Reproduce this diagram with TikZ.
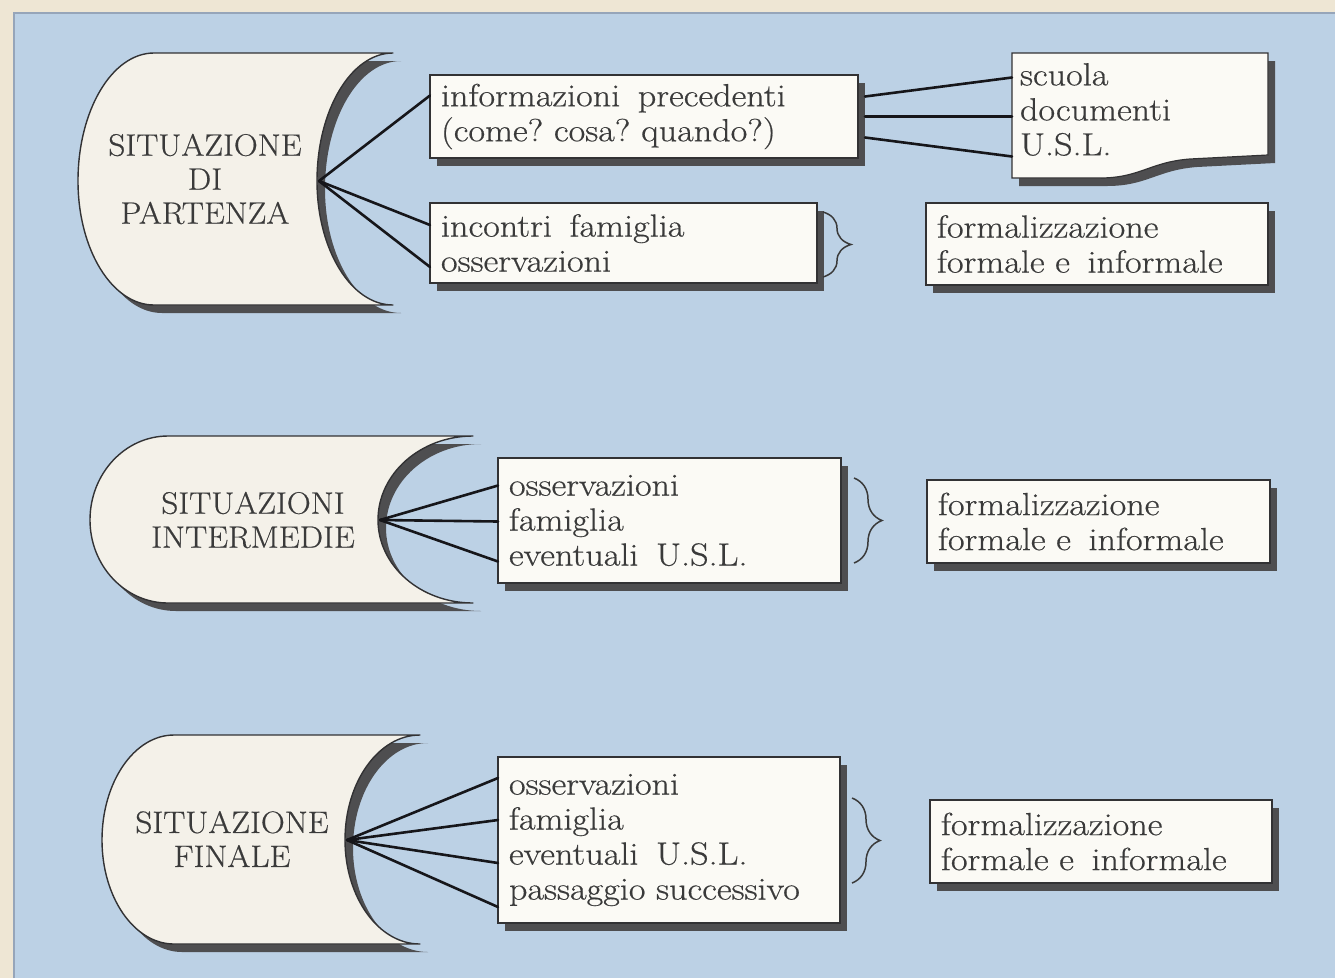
\documentclass[tikz,border=0pt]{standalone}
\usepackage{fontspec}
\setmainfont{Latin Modern Roman}[FakeStretch=1.07, FakeBold=0.5]
\newfontfamily\boxfamily{Latin Modern Roman}[FakeStretch=1.13, FakeBold=0.5]
\usetikzlibrary{shadows,decorations.pathreplacing,calc}
\definecolor{bgblue}{RGB}{188,209,229}
\definecolor{bgedge}{RGB}{150,165,185}
\definecolor{cream}{RGB}{238,230,212}
\definecolor{boxfill}{RGB}{251,250,245}
\definecolor{scrollfill}{RGB}{244,241,233}
\definecolor{shadowc}{RGB}{78,78,80}
\definecolor{boxline}{RGB}{50,50,52}
\definecolor{linec}{RGB}{22,22,26}
\definecolor{textc}{RGB}{58,58,58}
\newcommand{\boxfont}{\boxfamily\fontsize{32}{35}\selectfont}
\newcommand{\scrfont}{\fontsize{31}{34}\selectfont}
\newcommand{\wsp}{\hspace{0.55em}}
% #1 leftmost x, #2 start of flat top, #3 concave leftmost x, #4 horn x, #5 top y, #6 mid y, #7 bottom y
\newcommand{\scrollpath}[7]{(#2,#5) -- (#4,#5)
 .. controls ({#4-0.552*(#4-#3)},#5) and (#3,{#5+0.448*(#6-#5)}) .. (#3,#6)
 .. controls (#3,{#7-0.448*(#7-#6)}) and ({#4-0.552*(#4-#3)},#7) .. (#4,#7)
 -- (#2,#7)
 .. controls ({#2-0.552*(#2-#1)},#7) and (#1,{#7-0.448*(#7-#6)}) .. (#1,#6)
 .. controls (#1,{#5+0.448*(#6-#5)}) and ({#2-0.552*(#2-#1)},#5) .. (#2,#5) -- cycle}
\newcommand{\dpath}{(1012,53) -- (1268,53) -- (1268,155) -- (1190,159)
 .. controls (1150,162) and (1140,178) .. (1100,178) -- (1012,178) -- cycle}
\begin{document}
\frenchspacing
\begin{tikzpicture}[x=1pt,y=-1pt,
  box/.style={draw=boxline, line width=1.2pt, fill=boxfill, anchor=north west,
    align=left, inner xsep=11pt, inner ysep=0pt, outer sep=0pt, font=\boxfont,
    text=textc, drop shadow={shadow xshift=7pt,shadow yshift=-8pt,opacity=1,fill=shadowc}},
  dtext/.style={anchor=north west, align=left, inner xsep=8pt, inner ysep=0pt,
    outer sep=0pt, font=\boxfont, text=textc},
  stext/.style={align=center, font=\scrfont, text=textc, inner sep=0pt},
  conn/.style={line width=2.6pt, draw=linec, line cap=round},
  scrollshadow/.style={fill=shadowc},
  scrollbody/.style={fill=scrollfill, draw=boxline, line width=1.4pt, line join=round},
  bracestyle/.style={decorate, decoration={brace, amplitude=28pt}, line width=1.5pt, draw=textc}
]
\useasboundingbox (0,0) rectangle (1335,978);
\fill[cream] (0,0) rectangle (1335,978);
\fill[bgblue] (14,13) rectangle (1335,978);
\draw[bgedge, line width=1.2pt] (14,978) -- (14,13) -- (1335,13);

% scroll shapes
\begin{scope}[shift={(8,8)}]
  \fill[scrollshadow] \scrollpath{78}{154}{317}{393}{53}{181}{305};
  \fill[scrollshadow] \scrollpath{90}{168}{378}{473}{436}{520}{603};
  \fill[scrollshadow] \scrollpath{102}{174}{345}{420}{735}{840}{944};
\end{scope}
\path[scrollbody] \scrollpath{78}{154}{317}{393}{53}{181}{305};
\path[scrollbody] \scrollpath{90}{168}{378}{473}{436}{520}{603};
\path[scrollbody] \scrollpath{102}{174}{345}{420}{735}{840}{944};

\node[stext] (S1) at (205,179) {SITUAZIONE\\DI\\PARTENZA};
\node[stext] (S2) at (253,520) {SITUAZIONI\\INTERMEDIE};
\node[stext] (S3) at (232,839) {SITUAZIONE\\FINALE};
\coordinate (S1a) at (319,181);
\coordinate (S2a) at (380,520);
\coordinate (S3a) at (347,840);

% box D (wavy)
\begin{scope}[shift={(7,8)}]
  \fill[shadowc] \dpath;
\end{scope}
\path[fill=boxfill, draw=boxline, line width=1.2pt] \dpath;
\node[dtext, text width=240pt, minimum height=113pt] (D) at (1012,53) {scuola\\documenti\\U.S.L.};

% boxes
\node[box, text width=406pt, minimum height=83pt] (A) at (430,75) {informazioni\wsp precedenti\\(come? cosa? quando?)};
\node[box, text width=365pt, minimum height=80pt] (B) at (430,203) {incontri\wsp famiglia\\osservazioni};
\node[box, text width=320pt, minimum height=82pt] (C) at (926,203) {formalizzazione\\formale e\wsp informale};
\node[box, text width=321pt, minimum height=125pt] (E) at (498,458) {osservazioni\\famiglia\\eventuali\wsp U.S.L.};
\node[box, text width=321pt, minimum height=83pt] (F) at (927,480) {formalizzazione\\formale e\wsp informale};
\node[box, text width=320pt, minimum height=166pt] (G) at (498,757) {osservazioni\\famiglia\\eventuali\wsp U.S.L.\\passaggio successivo};
\node[box, text width=320pt, minimum height=83pt] (H) at (930,800) {formalizzazione\\formale e\wsp informale};

% connectors
\draw[conn] (S1a) -- ([shift={(0,-21)}]A.west);
\draw[conn] (S1a) -- ([shift={(0,-18)}]B.west);
\draw[conn] (S1a) -- ([shift={(0,24)}]B.west);
\draw[conn] ([shift={(7,-20)}]A.east) -- ([shift={(0,-32)}]D.west);
\draw[conn] ([shift={(7,0)}]A.east) -- ([shift={(0,7)}]D.west);
\draw[conn] ([shift={(7,21)}]A.east) -- ([shift={(0,47)}]D.west);

\draw[conn] (S2a) -- ([shift={(0,-35)}]E.west);
\draw[conn] (S2a) -- ([shift={(0,1)}]E.west);
\draw[conn] (S2a) -- ([shift={(0,41)}]E.west);

\draw[conn] (S3a) -- ([shift={(0,-62)}]G.west);
\draw[conn] (S3a) -- ([shift={(0,-20)}]G.west);
\draw[conn] (S3a) -- ([shift={(0,23)}]G.west);
\draw[conn] (S3a) -- ([shift={(0,67)}]G.west);

% braces
\draw[bracestyle] (823,212) -- (823,277);
\draw[bracestyle] (854,478) -- (854,563);
\draw[bracestyle] (852,798) -- (852,883);
\end{tikzpicture}
\end{document}
